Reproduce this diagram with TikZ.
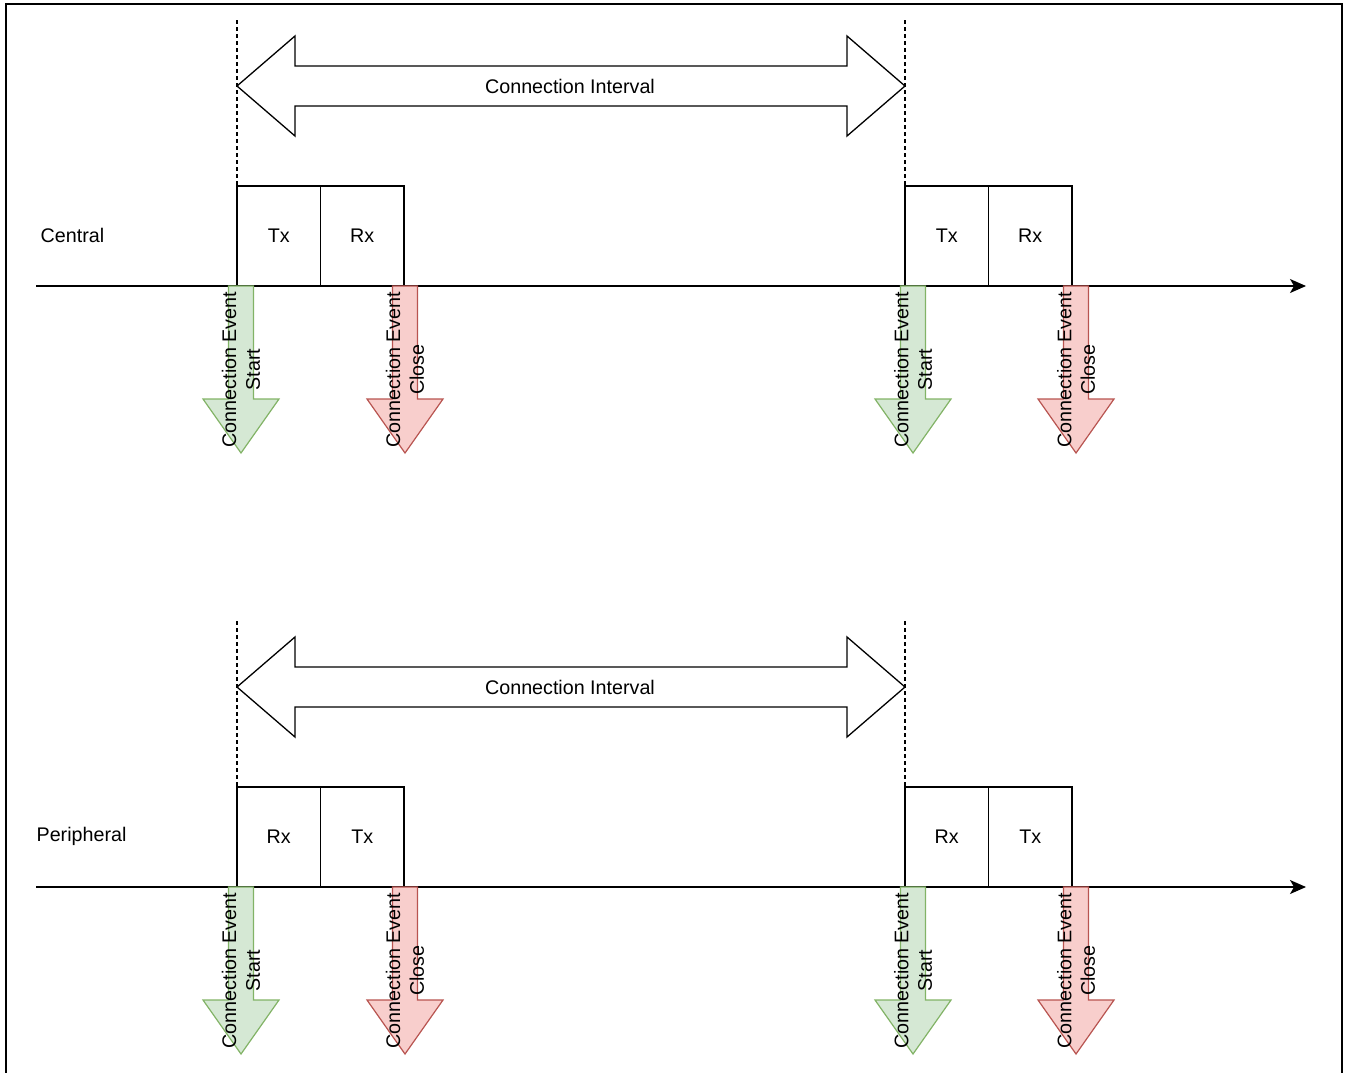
\documentclass[tikz,border=0pt]{standalone}
\usepackage{fontspec}
\setmainfont{Liberation Sans}
\usetikzlibrary{arrows.meta}
\definecolor{gfill}{HTML}{D5E8D4}
\definecolor{gline}{HTML}{82B366}
\definecolor{rfill}{HTML}{F8CECC}
\definecolor{rline}{HTML}{B85450}
\begin{document}
\begin{tikzpicture}[x=1pt,y=-1pt,line width=1.3pt,
  txt/.style={font=\fontsize{19.7}{23.6}\selectfont,inner sep=0pt},
  slot/.style={draw,txt,minimum width=83.5pt,minimum height=100pt,outer sep=0pt,anchor=north west},
  guide/.style={dash pattern=on 4pt off 3pt,line width=1.2pt},
  tline/.style={-{Stealth[length=16pt,width=14pt,inset=4pt]}},
  startarr/.style={draw=gline,fill=gfill,line width=1.2pt},
  closearr/.style={draw=rline,fill=rfill,line width=1.2pt},
  evlbl/.style={txt,rotate=90,align=center},
  ]
\useasboundingbox (0,0) rectangle (1346,1072);
\draw[line width=2pt] (6,4) rectangle (1342,1095);

\foreach \o/\nm/\first/\second [count=\i] in {0/Central/Tx/Rx, 601/Peripheral/Rx/Tx}{
  % guides
  \coordinate (ga\i) at (237,20+\o);
  \coordinate (gb\i) at (905,20+\o);
  % slots
  \node[slot] (s\i a) at (237,186+\o) {\first};
  \node[slot] (s\i b) at (s\i a.north east) {\second};
  \node[slot] (s\i c) at (905,186+\o) {\first};
  \node[slot] (s\i d) at (s\i c.north east) {\second};
  \draw[guide] (ga\i) -- (s\i a.north west);
  \draw[guide] (gb\i) -- (s\i c.north west);
  % connection interval double arrow
  \draw[fill=white] (237,86+\o) -- (295,36+\o) -- (295,66+\o) -- (847,66+\o) -- (847,36+\o)
     -- (905,86+\o) -- (847,136+\o) -- (847,106+\o) -- (295,106+\o) -- (295,136+\o) -- cycle;
  \node[txt] (ci\i) at (570,86+\o) {Connection Interval};
  % timeline
  \node[txt,anchor=west] (nm\i) at (44-4*\i,235+\o) {\nm};
  \coordinate (ts\i) at (36,286+\o);
  \coordinate (te\i) at (1306,286+\o);
  \draw[tline] (ts\i) -- (te\i);
  % event arrows
  \foreach \c/\sty/\w [count=\j] in {241/startarr/Start, 405/closearr/Close, 913/startarr/Start, 1076/closearr/Close}{
    \path[\sty] (\c-12.5,286+\o) -- (\c+12.5,286+\o) -- (\c+12.5,399+\o) -- (\c+38,399+\o)
       -- (\c,453+\o) -- (\c-38,399+\o) -- (\c-12.5,399+\o) -- cycle;
    \node[evlbl] (ev\i\j) at (\c,369.5+\o) {Connection Event\\\w};
  }
}
\end{tikzpicture}
\end{document}
